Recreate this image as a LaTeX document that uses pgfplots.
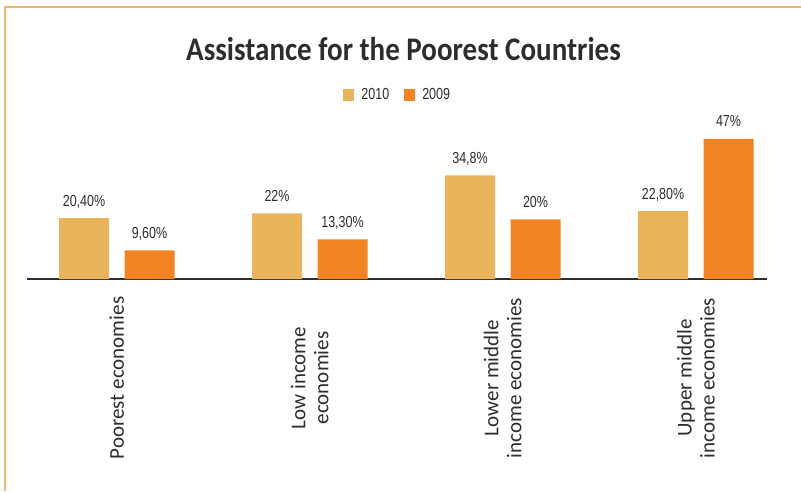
\documentclass[border=0pt]{standalone}
\usepackage{pgfplots}
\pgfplotsset{compat=1.18}
\usepackage{pgfplotstable}
\usepackage{fontspec}
\setmainfont{Liberation Sans}
\newfontfamily\titlefont[FakeStretch=0.88]{Carlito}
\newfontfamily\catfont{Carlito}
\newfontfamily\numfont[FakeStretch=0.78]{Liberation Sans}

\definecolor{tan}{HTML}{E9B45B}
\definecolor{orng}{HTML}{F28323}
\definecolor{framecol}{HTML}{EBB66C}
\definecolor{txt}{HTML}{2E2C2C}

% shares by income group, 2010 and 2009
\pgfplotstableread{
x y lab
0 20.4 20,40
1 22   22
2 34.8 34,8
3 22.8 22,80
}\dataten
\pgfplotstableread{
x y lab
0 9.6  9,60
1 13.3 13,30
2 20   20
3 47   47
}\datanine

\begin{document}
\begin{tikzpicture}
\useasboundingbox (0pt,0pt) rectangle (801pt,491pt);
% outer frame (left and top edges)
\draw[framecol, line width=2pt] (5pt,0pt) -- (5pt,483.5pt) -- (801pt,483.5pt);
% title
\node[anchor=base, text=txt, font=\titlefont\bfseries\fontsize{33}{36}\selectfont, inner sep=0pt]
  at (403.5pt,430pt) {Assistance for the Poorest Countries};
\begin{axis}[
  at={(116.75pt,212pt)}, anchor=origin,
  scale only axis, width=740pt, height=149pt,
  xmin=-0.465, xmax=3.369, ymin=0, ymax=50,
  ybar, bar width=50pt,
  axis x line=bottom, axis y line=none,
  x axis line style={-, color=txt, line width=1.3pt},
  major tick length=0pt,
  xtick={0,1,2,3},
  xticklabels={Poorest economies,{Low income\\economies},{Lower middle\\income economies},{Upper middle\\income economies}},
  xticklabel style={font=\catfont\fontsize{21}{23}\selectfont, text=txt, rotate=90, anchor=center, align=center},
  xticklabel shift=99pt,
  point meta=explicit symbolic,
  nodes near coords={\pgfplotspointmeta\%},
  every node near coord/.append style={font=\numfont\fontsize{16}{18}\selectfont, text=txt, anchor=base, yshift=12pt, inner sep=0pt},
  clip=false,
  legend columns=2,
  legend style={draw=none, fill=none, at={(0.501,1.235)}, anchor=center,
    font=\numfont\fontsize{16}{18}\selectfont, text=txt,
    /tikz/every even column/.append style={column sep=13pt}},
  legend image code/.code={\fill[#1,draw=none] (0pt,-6pt) rectangle (11pt,6pt);\path (0pt,0pt) -- (16pt,0pt);},
]
\addplot[fill=tan, draw=none, bar shift=-32.75pt] table[x=x, y=y, meta=lab] {\dataten};
\addplot[fill=orng, draw=none, bar shift=32.75pt] table[x=x, y=y, meta=lab] {\datanine};
\legend{2010,2009}
\end{axis}
\end{tikzpicture}
\end{document}
